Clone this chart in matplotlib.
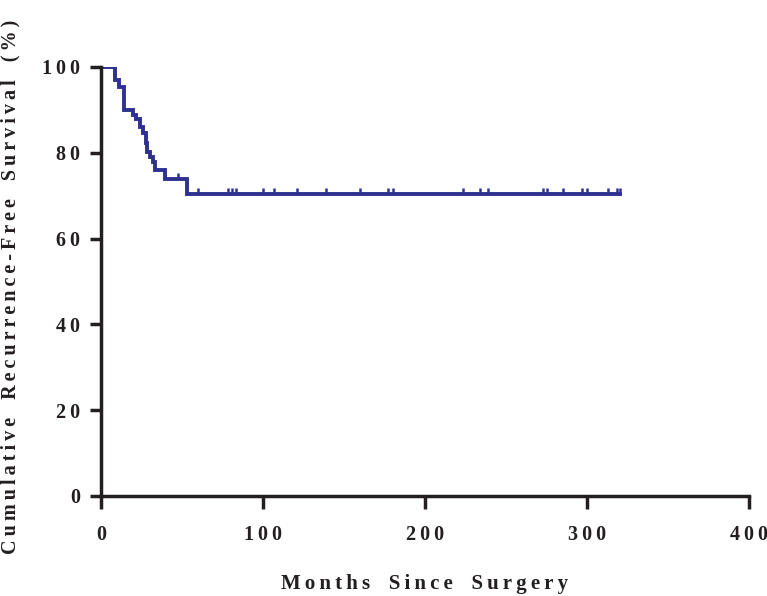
import matplotlib.pyplot as plt
import numpy as np

# Kaplan-Meier steps (months, % recurrence-free)
event_months = [0, 8.6, 11.3, 14.4, 19.5, 21.5, 24.1, 26.1, 27.5, 28.6, 30.2, 31.8, 33.3, 39.5, 52.9]
survival = [100, 97.0, 95.3, 90.0, 88.9, 87.8, 86.1, 84.5, 82.3, 80.3, 79.0, 77.9, 76.0, 73.9, 70.4]
last_followup = 320.5

# censored patients (tick marks)
censor_months = [47.7, 60.1, 78.4, 80.9, 83.3, 100.0, 107.0, 120.8, 138.9, 159.9, 177.3, 180.4,
                 223.6, 234.0, 239.0, 272.8, 275.3, 285.2, 296.7, 299.8, 313.0, 318.5, 320.4]

x_ticks = [0, 100, 200, 300, 400]
y_ticks = [0, 20, 40, 60, 80, 100]

xlabel = "Months Since Surgery"
ylabel = "Cumulative Recurrence-Free Survival (%)"

LINE = "#2e3192"
AXC = "#231f20"
THIN = "\u2009"


def spaced(txt):
    # the original export uses wide letter spacing
    return (THIN + "  " + THIN).join(THIN.join(w) for w in txt.split(" "))


plt.rcParams['font.family'] = ['Liberation Serif', 'DejaVu Serif']
plt.rcParams['font.weight'] = 'bold'

fig = plt.figure(figsize=(7.67, 5.96), dpi=100)
ax = fig.add_axes([0.1317, 0.1678, 0.8448, 0.7198])

t = np.array(event_months + [last_followup])
s = np.array(survival + [survival[-1]])
ax.step(t, s, where="post", color=LINE, linewidth=2.8, solid_joinstyle="miter")

# censor marks sit on the curve and point upward
c = np.array(censor_months)
idx = np.searchsorted(np.array(event_months), c, side="right") - 1
cs = np.array(survival)[idx]
ax.vlines(c, cs, cs + 1.5, color=LINE, linewidth=1.8)

ax.set_xlim(0, 400)
ax.set_ylim(0, 100)
ax.set_xticks(x_ticks)
ax.set_yticks(y_ticks)
ax.set_xticklabels([spaced(str(v)) for v in x_ticks])
ax.set_yticklabels([spaced(str(v)) for v in y_ticks])
ax.tick_params(axis="x", direction="out", length=9, width=2.5, color=AXC, pad=12, labelsize=14.5)
ax.tick_params(axis="y", direction="out", length=8, width=2.5, color=AXC, pad=7, labelsize=14.5)

for side in ["top", "right"]:
    ax.spines[side].set_visible(False)
for side in ["left", "bottom"]:
    ax.spines[side].set_linewidth(2.5)
    ax.spines[side].set_color(AXC)
    ax.spines[side].set_capstyle("projecting")

ax.set_xlabel(spaced(xlabel), fontsize=15, fontweight="bold", labelpad=21, color=AXC)
ax.set_ylabel(spaced(ylabel), fontsize=14.5, fontweight="bold", color=AXC)
ax.yaxis.set_label_coords(-0.124, 0.487)
for lab in ax.get_xticklabels() + ax.get_yticklabels():
    lab.set_color(AXC)
    lab.set_fontweight("bold")

plt.savefig("out.png", dpi=100)
